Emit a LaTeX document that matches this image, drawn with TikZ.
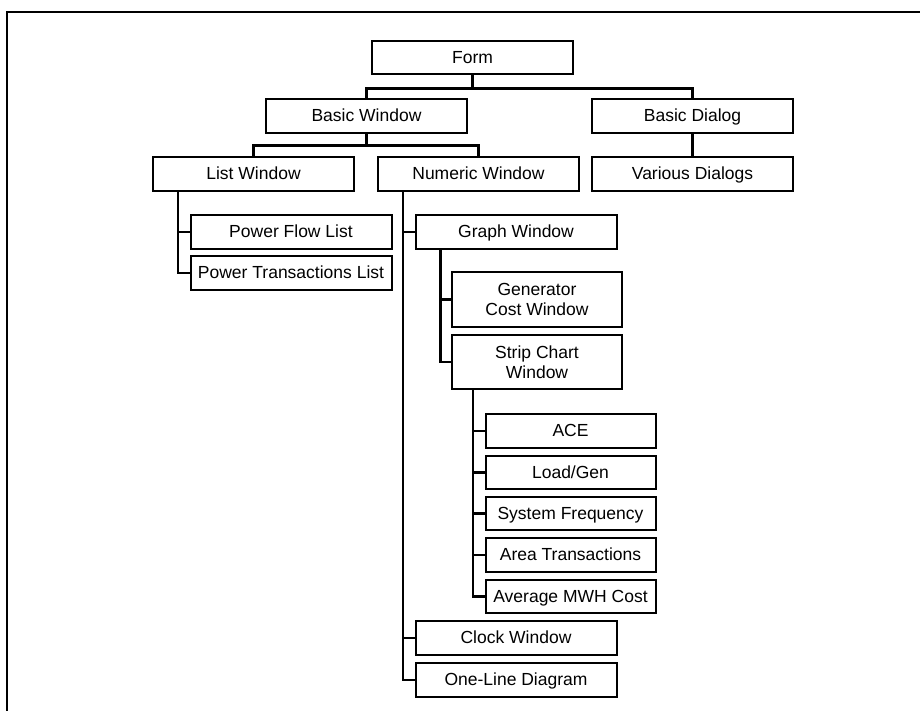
\documentclass[tikz,border=0pt]{standalone}
\usepackage{fontspec}
\setmainfont{Liberation Sans}
\begin{document}
\begin{tikzpicture}[x=1pt,y=-1pt,
  box/.style={draw, line width=2pt, rectangle, inner sep=0pt, align=center,
    font=\fontsize{17.5}{20.5}\selectfont, minimum height=33.5pt},
  one/.style={text height=12.5pt, text depth=1pt},
  bw/.style={box, one, minimum width=201pt},
  sw/.style={box, one, minimum width=170pt},
  sw2/.style={box, minimum width=170pt},
  bus/.style={line width=3.2pt},
  link/.style={line width=2.2pt}]
\useasboundingbox (0,0) rectangle (920,710);
\draw[line width=2.2pt] (7,711) -- (7,12) -- (921,12);

\node[bw] (form) at (472.5,57.5) {Form};
\node[bw] (basicwin) at (366.5,116) {Basic Window};
\node[bw] (basicdlg) at (692.5,116) {Basic Dialog};
\node[bw] (listwin) at (253.5,174) {List Window};
\node[bw] (numwin) at (478.5,174) {Numeric Window};
\node[bw] (various) at (692.5,174) {Various Dialogs};
\node[bw] (pfl) at (291,232) {Power Flow List};
\node[bw] (ptl) at (291,273) {Power Transactions List};
\node[bw] (graph) at (516,232) {Graph Window};
\node[sw2, minimum height=55pt] (gen) at (537,299.5) {Generator\\Cost Window};
\node[sw2, minimum height=54pt] (strip) at (537,362) {Strip Chart\\Window};
\node[sw] (ace) at (570.5,431) {ACE};
\node[sw] (load) at (570.5,472.5) {Load/Gen};
\node[sw] (sysfreq) at (570.5,513.5) {System Frequency};
\node[sw] (area) at (570.5,555) {Area Transactions};
\node[sw] (avg) at (570.5,596.5) {Average MWH Cost};
\node[bw] (clock) at (516,638) {Clock Window};
\node[bw] (oneline) at (516,680) {One-Line Diagram};

% top buses
\draw[bus] (form.south) -- ++(0,13) coordinate (fb);
\draw[bus] (basicwin.north) |- (fb) -| (basicdlg.north);
\draw[bus] (basicwin.south) -- ++(0,12) coordinate (bb);
\draw[bus] (listwin.north) |- (bb) -| (numwin.north);
\draw[link] (basicdlg.south) -- (various.north);

% list window
\coordinate (lt) at ([xshift=26pt]listwin.south west);
\draw[link] (lt) |- (ptl.west);
\draw[link] (lt |- pfl.west) -- (pfl.west);

% numeric window
\coordinate (nt) at ([xshift=26pt]numwin.south west);
\draw[link] (nt) |- (oneline.west);
\draw[link] (nt |- graph.west) -- (graph.west);
\draw[link] (nt |- clock.west) -- (clock.west);

% graph window
\coordinate (gt) at ([xshift=26pt]graph.south west);
\draw[link] (gt) |- (strip.west);
\draw[link] (gt |- gen.west) -- (gen.west);

% strip chart
\coordinate (st) at ([xshift=22pt]strip.south west);
\draw[link] (st) |- (avg.west);
\draw[link] (st |- ace.west) -- (ace.west);
\draw[link] (st |- load.west) -- (load.west);
\draw[link] (st |- sysfreq.west) -- (sysfreq.west);
\draw[link] (st |- area.west) -- (area.west);
\end{tikzpicture}
\end{document}
